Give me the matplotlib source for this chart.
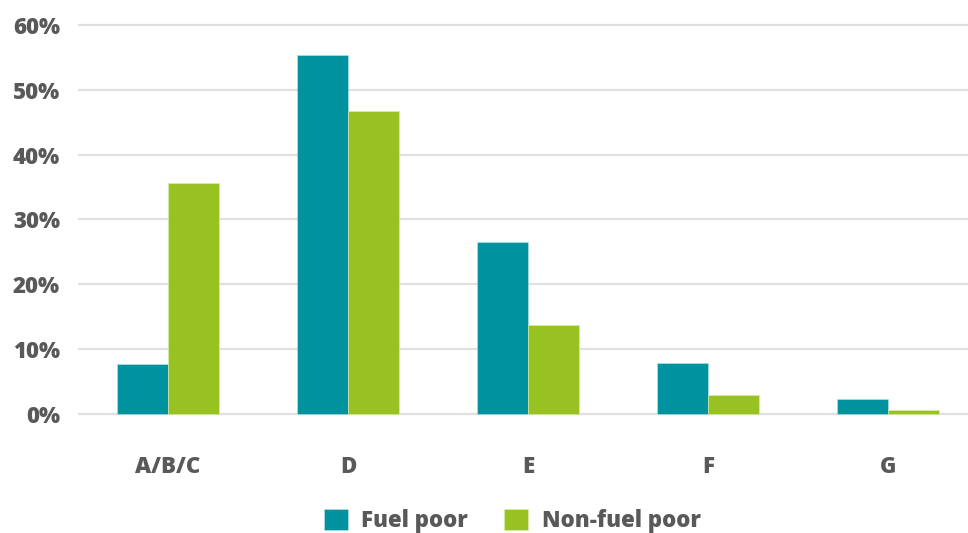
import matplotlib.pyplot as plt
import numpy as np

categories = ["A/B/C", "D", "E", "F", "G"]
fuel_poor = [7.7, 55.4, 26.5, 7.8, 2.3]
non_fuel_poor = [35.7, 46.7, 13.8, 2.9, 0.6]
series_names = ["Fuel poor", "Non-fuel poor"]

teal = "#00929F"
green = "#97C221"
text_col = "#595959"

plt.rcParams["font.family"] = ["Open Sans", "DejaVu Sans"]
plt.rcParams["font.weight"] = 800

fig = plt.figure(figsize=(9.68, 5.33), dpi=100)
ax = fig.add_axes([78/968, 0.2111, 890/968, 0.7542])

x = np.arange(len(categories))
w = 0.283
ax.bar(x - w/2, fuel_poor, w, color=teal, edgecolor="#bfe3e6", linewidth=0.4, label=series_names[0], zorder=3)
ax.bar(x + w/2, non_fuel_poor, w, color=green, edgecolor="#dcedb5", linewidth=0.4, label=series_names[1], zorder=3)

ax.set_xlim(-0.5, 4.444)
ax.set_ylim(-1, 61)
ax.set_yticks(range(0, 70, 10))
ax.set_yticklabels([f"{v}%" for v in range(0, 70, 10)])
ax.set_xticks(x)
ax.set_xticklabels(categories)

ax.grid(axis="y", color="#e0e0e0", linewidth=1.6, zorder=0)
for s in ax.spines.values():
    s.set_visible(False)
ax.tick_params(axis="y", length=0, pad=13, labelsize=16, labelcolor=text_col)
ax.tick_params(axis="x", length=0, pad=25, labelsize=16, labelcolor=text_col)

fig.legend(loc="center", bbox_to_anchor=(0.529, 0.022), ncol=2, frameon=False,
           fontsize=16, labelcolor=text_col, handlelength=1.1, handleheight=1.1,
           handletextpad=0.6, columnspacing=1.6)

fig.savefig("out.png", dpi=100)
